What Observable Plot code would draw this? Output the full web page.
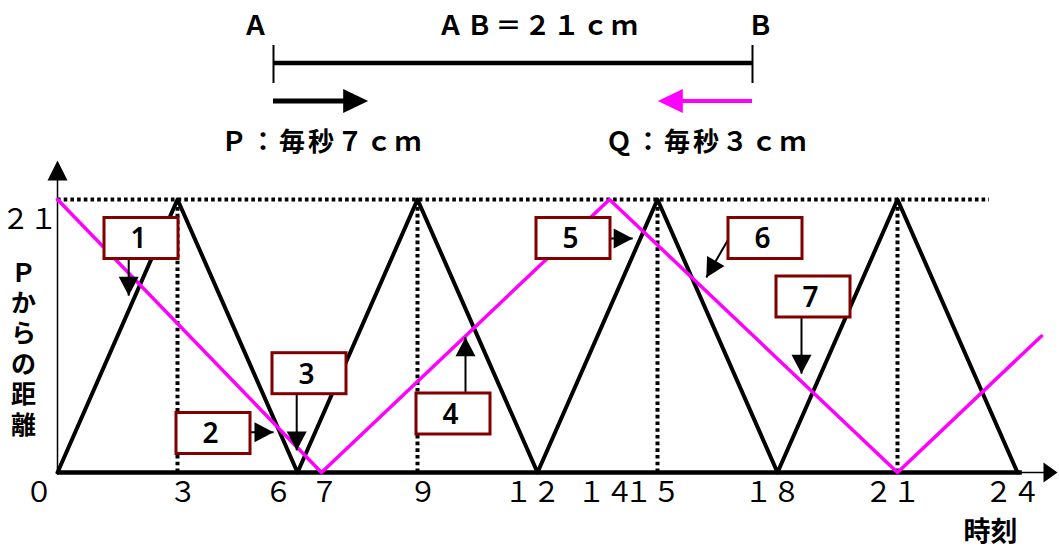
<!DOCTYPE html>
<html><head><meta charset="utf-8">
<script src="https://cdn.jsdelivr.net/npm/d3@7"></script>
<script src="https://cdn.jsdelivr.net/npm/@observablehq/plot@0.6"></script>
<style>
html,body{margin:0;padding:0;background:#fff;overflow:hidden;}
#chart{width:1059px;}
#chart svg{display:block;overflow:visible;}
.hdr text{letter-spacing:3px;}
</style></head><body><div id="chart"><div class="hdr" id="hdr"></div><div id="main"></div></div>
<script>
// ---------------- data ----------------
const abLength = 21;                 // AB = 21 cm
const endNames = ["Ａ", "Ｂ"];
const endPos = [0, 21];
const speedLabels = ["Ｐ：毎秒７ｃｍ", "Ｑ：毎秒３ｃｍ"];
const arrowLen = 4.15;               // drawn length of the direction arrows (cm)

// P : distance from A over time
const tP = [0, 3, 6, 9, 12, 15, 18, 21, 24];
const yP = [0, 21, 0, 21, 0, 21, 0, 21, 0];
// Q : as drawn in the picture
const tQ = [0, 6.6, 13.8, 21, 24.6];
const yQ = [21, 0, 21, 0, 10.5];

const xTicks = [0, 3, 6, 7, 9, 12, 14, 15, 18, 21, 24];
const xTickLabels = ["０", "３", "６", "７", "９", "１２", "１４", "１５", "１８", "２１", "２４"];
const yTicks = [21];
const yTickLabels = ["２１"];
const guideT = [3, 9, 15, 21];
const yTitleChars = ["Ｐ", "か", "ら", "の", "距", "離"];

const noteLabels = ["1", "2", "3", "4", "5", "6", "7"];
const noteBoxT  = [2.1, 3.9, 6.3, 9.9, 12.9, 17.7, 18.9];
const noteBoxY  = [18.0, 3.0, 7.6, 4.5, 18.0, 18.0, 13.5];
const noteTailT = [1.78, 3.9, 5.98, 10.2, 12.9, 16.8, 18.6];
const noteTailY = [18.0, 3.1, 7.6, 4.5, 18.0, 18.1, 13.5];
const noteTipT  = [1.78, 5.4, 5.98, 10.2, 14.38, 16.22, 18.6];
const noteTipY  = [13.6, 3.1, 1.7, 10.4, 18.0, 15.0, 7.6];

// ---------------- helpers ----------------
const W = 1059;
const CJK = "'Noto Sans CJK JP', 'Noto Sans', sans-serif";
function tri(angleDeg, L, Wd) {
  const a = angleDeg * Math.PI / 180, c = Math.cos(a), s = Math.sin(a);
  return {draw(ctx) {
    const bx = -L * c, by = -L * s;
    ctx.moveTo(0, 0);
    ctx.lineTo(bx - Wd * s, by + Wd * c);
    ctx.lineTo(bx + Wd * s, by - Wd * c);
    ctx.closePath();
  }};
}
const toFull = s => String(s).replace(/[0-9]/g, c => String.fromCharCode(c.charCodeAt(0) + 0xFEE0));

// ---------------- header ----------------
const rows = ["label", "segment", "arrow", "speed"];
const hdrFont = {fontFamily: CJK, fontSize: 26, fontWeight: "bold", fill: "black"};
const header = Plot.plot({
  width: W, height: 160,
  marginLeft: 273, marginRight: 307, marginTop: 6, marginBottom: 1,
  x: {domain: [0, abLength], axis: null},
  y: {type: "band", domain: rows, padding: 0, axis: null},
  marks: [
    Plot.text([endNames[0]], {x: endPos[0], y: () => "label", dx: -16.5, ...hdrFont}),
    Plot.text([endNames[1]], {x: endPos[1], y: () => "label", dx: 9.5, ...hdrFont}),
    Plot.text(["ＡＢ＝" + toFull(abLength) + "ｃｍ"], {x: abLength / 2, y: () => "label", dx: 26, ...hdrFont}),
    Plot.ruleY(["segment"], {y: d => d, x1: endPos[0], x2: endPos[1], stroke: "black", strokeWidth: 4.5, dy: -1.5}),
    Plot.tickX(endPos, {x: d => d, y: () => "segment", stroke: "black", strokeWidth: 2}),
    // P arrow
    Plot.ruleY(["arrow"], {y: d => d, x1: endPos[0], x2: endPos[0] + arrowLen - 0.9, stroke: "black", strokeWidth: 5, dy: -1.5}),
    Plot.dot(["arrow"], {x: endPos[0] + arrowLen, y: d => d, dy: -1.5, symbol: tri(0, 25, 12), fill: "black", stroke: "none"}),
    // Q arrow
    Plot.ruleY(["arrow"], {y: d => d, x1: endPos[1], x2: endPos[1] - arrowLen + 0.9, stroke: "#ff00ff", strokeWidth: 4, dy: -1.5}),
    Plot.dot(["arrow"], {x: endPos[1] - arrowLen, y: d => d, dy: -1.5, symbol: tri(180, 25, 12), fill: "#ff00ff", stroke: "none"}),
    Plot.text([speedLabels[0]], {x: endPos[0], y: () => "speed", dx: 49, dy: 2, ...hdrFont}),
    Plot.text([speedLabels[1]], {x: endPos[1], y: () => "speed", dx: -45, dy: 2, ...hdrFont})
  ]
});
document.getElementById("hdr").appendChild(header);

// ---------------- main chart ----------------
const mainH = 387, mL = 57, mR = 42, mT = 39, mB = 75;
const kx = (W - mL - mR) / 24, ky = (mainH - mT - mB) / 21;
const P = tP.map((t, i) => ({t, y: yP[i]}));
const Q = tQ.map((t, i) => ({t, y: yQ[i]}));
const notes = noteLabels.map((label, i) => ({
  label, bt: noteBoxT[i], by: noteBoxY[i],
  tailT: noteTailT[i], tailY: noteTailY[i], tipT: noteTipT[i], tipY: noteTipY[i]
}));
const dotted = {stroke: "black", strokeWidth: 4, strokeDasharray: "3.6,3.1"};
const tickNudge = [-18.5, 5.5, -19, -13, 5.5, -5, -12, -5, -5, -5, -5];
const tickFont = {fontFamily: CJK, fontSize: 28, fontWeight: "normal", fill: "black"};
const titlePitch = 30.4;

const main = Plot.plot({
  width: W, height: mainH,
  marginLeft: mL, marginRight: mR, marginTop: mT, marginBottom: mB,
  x: {domain: [0, 24], axis: null},
  y: {domain: [0, 21], axis: null},
  marks: [
    Plot.ruleY([21], {x1: 0, x2: 23.3, ...dotted}),
    Plot.ruleX(guideT, {y1: 0, y2: 21, ...dotted}),
    // axes
    Plot.ruleX([0], {y1: 0, y2: 23, stroke: "black", strokeWidth: 1.5}),
    Plot.dot([0], {x: 0, y: 24, symbol: tri(-90, 20, 10), fill: "black", stroke: "none"}),
    Plot.ruleY([0], {x1: 24, x2: 24.8, stroke: "black", strokeWidth: 1.5}),
    Plot.dot([0], {x: 25, y: 0, symbol: tri(0, 14, 10), fill: "black", stroke: "none"}),
    Plot.ruleY([0], {x1: 0, x2: 24.12, stroke: "black", strokeWidth: 4.5}),
    // motions
    Plot.line(P, {x: "t", y: "y", stroke: "black", strokeWidth: 4}),
    Plot.line(Q, {x: "t", y: "y", stroke: "#ff00ff", strokeWidth: 3.5}),
    // annotations
    Plot.link(notes, {x1: "tailT", y1: "tailY", x2: "tipT", y2: "tipY", stroke: "black", strokeWidth: 2}),
    Plot.rect(notes, {x1: "bt", x2: "bt", y1: "by", y2: "by",
      insetLeft: -37, insetRight: -37, insetTop: -20.5, insetBottom: -20.5,
      fill: "white", stroke: "#800000", strokeWidth: 3}),
    Plot.text(notes, {x: "bt", y: "by", text: "label", dx: -3, dy: 1,
      fontFamily: "'Noto Sans', 'Open Sans', sans-serif", fontSize: 28, fontWeight: 600, fill: "black"}),
    ...notes.map(n => {
      const ang = Math.atan2(-(n.tipY - n.tailY) * ky, (n.tipT - n.tailT) * kx) * 180 / Math.PI;
      return Plot.dot([n], {x: "tipT", y: "tipY", symbol: tri(ang, 19, 10), fill: "black", stroke: "none"});
    }),
    // tick labels
    ...xTicks.map((v, i) => Plot.text([xTickLabels[i]], {x: v, y: 0, text: d => d, dy: 21, dx: tickNudge[i], ...tickFont})),
    ...yTicks.map((v, i) => Plot.text([yTickLabels[i]], {x: 0, y: v, text: d => d, dx: -28, dy: 21, ...tickFont})),
    // vertical axis title, one character per row
    ...yTitleChars.map((ch, i) => Plot.text([ch], {frameAnchor: "left", textAnchor: "middle", text: d => d,
      dx: -34, dy: 13.5 + (i - (yTitleChars.length - 1) / 2) * titlePitch,
      fontFamily: CJK, fontSize: 25, fontWeight: "bold", fill: "black"})),
    Plot.text(["時刻"], {x: 24, y: 0, text: d => d, dx: -27, dy: 60,
      fontFamily: CJK, fontSize: 27, fontWeight: "bold", fill: "black"})
  ]
});
document.getElementById("main").appendChild(main);
</script>
</body></html>
